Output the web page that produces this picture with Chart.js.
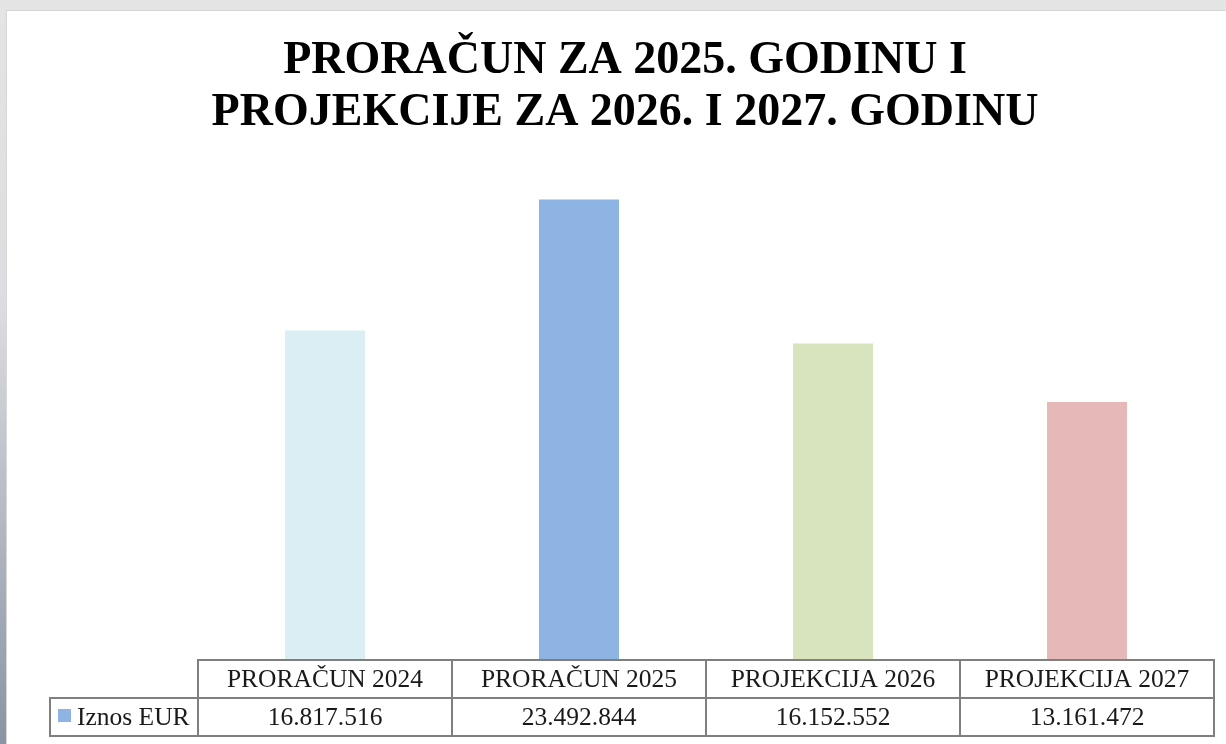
<!DOCTYPE html>
<html>
<head>
<meta charset="utf-8">
<script src="https://cdn.jsdelivr.net/npm/chart.js@4"></script>
<style>
  html, body { margin: 0; padding: 0; }
  body { width: 1226px; height: 744px; background: #e4e4e4; position: relative; overflow: hidden; }
  #strip { position: absolute; left: 0; top: 10px; width: 6px; bottom: 0;
           background: linear-gradient(#e4e4e4 0%, #dcdde0 40%, #b3b8c2 70%, #8b93a4 100%); }
  #panel { position: absolute; left: 6px; top: 10px; right: 0; bottom: 0; background: #fff;
           border-left: 1px solid #d6d6d6; border-top: 1px solid #d6d6d6; }
  #chart { position: absolute; left: 0; top: 0; }
</style>
</head>
<body>
<div id="strip"></div>
<div id="panel"></div>
<canvas id="chart" width="1226" height="744"></canvas>
<script>
// ===== Data =====
const categories = ['PRORAČUN 2024', 'PRORAČUN 2025', 'PROJEKCIJA 2026', 'PROJEKCIJA 2027'];
const amounts = [16817516, 23492844, 16152552, 13161472];
const seriesName = 'Iznos EUR';
const barColors = ['#dbeef3', '#8eb4e3', '#d7e4bd', '#e6b9b8'];
const titleLines = ['PRORAČUN ZA 2025. GODINU I', 'PROJEKCIJE ZA 2026. I 2027. GODINU'];

const SERIF = '"Liberation Serif", "Times New Roman", serif';

const fmt = (n) => String(n).replace(/\B(?=(\d{3})+(?!\d))/g, '.');

// ===== Title (centred on the slide, not on the plot) =====
const slideTitle = {
    id: 'slideTitle',
    afterDraw(chart) {
        const ctx = chart.ctx;
        ctx.save();
        ctx.fillStyle = '#000';
        ctx.font = 'bold 46px ' + SERIF;
        ctx.textAlign = 'center';
        ctx.textBaseline = 'alphabetic';
        titleLines.forEach((line, i) => ctx.fillText(line, 625, 73 + i * 52));
        ctx.restore();
    }
};

// ===== Data table under the bars =====
const dataTable = {
    id: 'dataTable',
    afterDraw(chart) {
        const ctx = chart.ctx;
        const x = chart.scales.x;
        const area = chart.chartArea;
        const catW = (area.right - area.left) / categories.length;
        const rowH = 38;
        const top = area.bottom;
        const legendLeft = 50;

        ctx.save();
        ctx.strokeStyle = '#7f7f7f';
        ctx.lineWidth = 2;

        ctx.strokeRect(area.left, top, area.right - area.left, rowH);
        ctx.strokeRect(legendLeft, top + rowH, area.right - legendLeft, rowH);
        categories.forEach((c, i) => {
            const left = x.getPixelForTick(i) - catW / 2;
            ctx.beginPath();
            ctx.moveTo(left, top);
            ctx.lineTo(left, top + 2 * rowH);
            ctx.stroke();
        });

        ctx.fillStyle = '#1a1a1a';
        ctx.font = '25.5px ' + SERIF;
        ctx.textAlign = 'center';
        ctx.textBaseline = 'middle';
        categories.forEach((c, i) => {
            const cx = x.getPixelForTick(i);
            ctx.fillText(c, cx, top + rowH / 2 + 1);
            ctx.fillText(fmt(amounts[i]), cx, top + rowH * 1.5 + 1);
        });

        // legend key
        ctx.fillStyle = '#8eb4e3';
        ctx.fillRect(legendLeft + 8, top + rowH + 11, 13, 13);
        ctx.fillStyle = '#1a1a1a';
        ctx.textAlign = 'left';
        ctx.fillText(seriesName, legendLeft + 27, top + rowH * 1.5 + 1);
        ctx.restore();
    }
};

// ===== Chart =====
new Chart(document.getElementById('chart'), {
    type: 'bar',
    data: {
        labels: categories,
        datasets: [{
            label: seriesName,
            data: amounts,
            backgroundColor: barColors,
            borderWidth: 0,
            barPercentage: 1,
            categoryPercentage: 0.315
        }]
    },
    options: {
        responsive: false,
        animation: false,
        layout: { padding: { left: 198, right: 12, top: 170, bottom: 84 } },
        scales: {
            x: { display: false },
            y: { display: false, min: 0, max: 25000000 }
        },
        plugins: {
            legend: { display: false },
            tooltip: { enabled: false },
            title: { display: false }
        }
    },
    plugins: [dataTable, slideTitle]
});
</script>
</body>
</html>
